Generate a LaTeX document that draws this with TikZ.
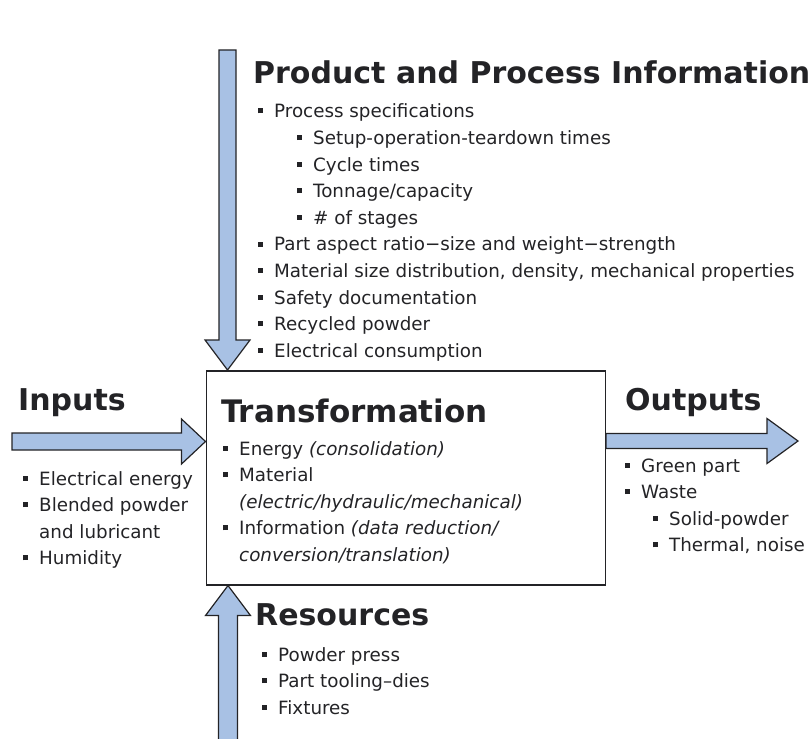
\documentclass[tikz,border=0pt]{standalone}
\usepackage{fontspec}
\setmainfont{DejaVu Sans}
\usetikzlibrary{calc}
\definecolor{flowblue}{RGB}{168,193,228}
\definecolor{ink}{RGB}{35,35,38}
\newcommand{\bul}{\makebox[16pt][l]{\raisebox{4.5pt}{\rule{5pt}{5pt}}}}
\newcommand{\subbul}{\hspace{39pt}\bul}
\newcommand{\fatarrow}[5]{%
  \path (#2) coordinate (fa-tip) ($(#2)!#5!(#1)$) coordinate (fa-base);
  \draw[flow] ($(#1)!#3!90:(fa-tip)$) -- ($(fa-base)!#3!90:(fa-tip)$)
    -- ($(fa-base)!#4!90:(fa-tip)$) -- (fa-tip)
    -- ($(fa-base)!#4!-90:(fa-tip)$) -- ($(fa-base)!#3!-90:(fa-tip)$)
    -- ($(#1)!#3!-90:(fa-tip)$) -- cycle;
}

\begin{document}
\begin{tikzpicture}[
      x=1pt, y=-1pt,
      every node/.style={inner sep=0pt, text=ink},
      flow/.style={draw=ink, line width=1.2pt, fill=flowblue, line join=miter},
      box/.style={draw=ink, line width=1.5pt, minimum width=399pt,
        minimum height=214pt, anchor=north west},
      head/.style={anchor=base west, font=\bfseries\fontsize{30}{33}\selectfont},
      list/.style={anchor=base west, font=\fontsize{18.3}{26.6}\selectfont}
    ]
      \useasboundingbox (0,0) rectangle (810,738);
      \node[box] (trans) at (205.5,370) {};

      \coordinate (pin) at (227.5,50);
      \coordinate (pin-end) at (pin |- trans.north);
      \coordinate (inp) at (12,441.5);
      \coordinate (inp-end) at (trans.west |- inp);
      \coordinate (outp) at (798,441);
      \coordinate (outp-start) at (trans.east |- outp);
      \coordinate (res) at (228,745);
      \coordinate (res-end) at (res |- trans.south);

      \fatarrow{pin}{pin-end}{8.5pt}{22.5pt}{30pt}
      \fatarrow{inp}{inp-end}{8.5pt}{22.5pt}{24pt}
      \fatarrow{outp-start}{outp}{7.5pt}{22.5pt}{31pt}
      \fatarrow{res}{res-end}{9.5pt}{22.5pt}{30pt}

      \node[head] (ppi) at (253,84) {Product and Process Information};
      \node[list] (ppi-list) at (258,118) {\begin{tabular}[t]{@{}l@{}}
        \bul Process specifications\\
        \subbul Setup-operation-teardown times\\
        \subbul Cycle times\\
        \subbul Tonnage/capacity\\
        \subbul \# of stages\\
        \bul Part aspect ratio−size and weight−strength\\
        \bul Material size distribution, density, mechanical properties\\
        \bul Safety documentation\\
        \bul Recycled powder\\
        \bul Electrical consumption
      \end{tabular}};

      \node[head] (in-head) at (18,410) {Inputs};
      \node[list] (in-list) at (23,485) {\begin{tabular}[t]{@{}l@{}}
        \bul Electrical energy\\
        \bul Blended powder\\
        \hspace{16pt}and lubricant\\
        \bul Humidity
      \end{tabular}};

      \node[head, font=\bfseries\fontsize{31}{34}\selectfont] (trans-head) at (221,422)
        {Transformation};
      \node[list] (trans-list) at (223,455) {\begin{tabular}[t]{@{}l@{}}
        \bul Energy \textit{(consolidation)}\\
        \bul Material\\
        \hspace{16pt}\textit{(electric/hydraulic/mechanical)}\\
        \bul Information \textit{(data reduction/}\\
        \hspace{16pt}\textit{conversion/translation)}
      \end{tabular}};

      \node[head] (out-head) at (625,410) {Outputs};
      \node[list] (out-list) at (625,472) {\begin{tabular}[t]{@{}l@{}}
        \bul Green part\\
        \bul Waste\\
        \hspace{28pt}\bul Solid-powder\\
        \hspace{28pt}\bul Thermal, noise
      \end{tabular}};

      \node[head] (res-head) at (255,625) {Resources};
      \node[list] (res-list) at (262,661) {\begin{tabular}[t]{@{}l@{}}
        \bul Powder press\\
        \bul Part tooling–dies\\
        \bul Fixtures
      \end{tabular}};
    \end{tikzpicture}
\end{document}
